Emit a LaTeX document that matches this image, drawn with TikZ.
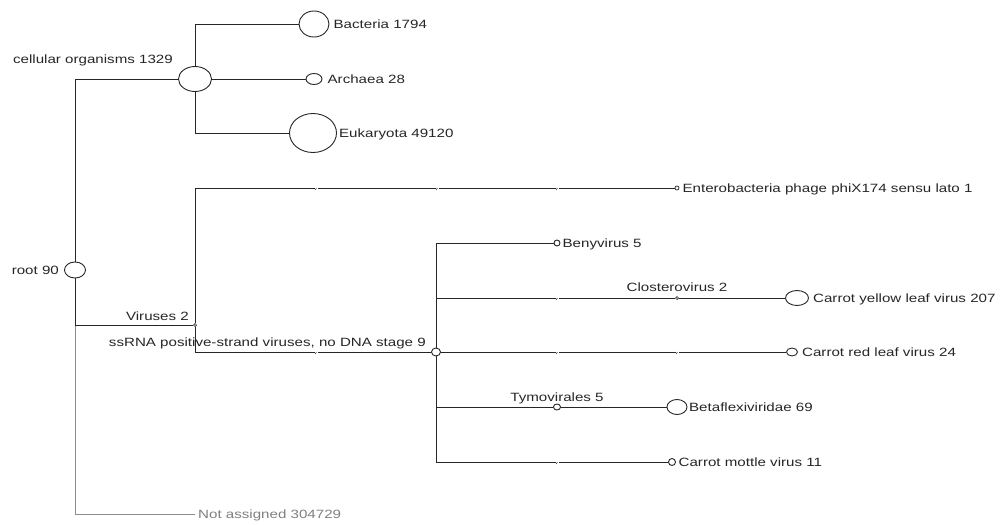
\documentclass[tikz,border=0pt]{standalone}
\usepackage{fontspec}
\setmainfont{Liberation Sans}[FakeStretch=1.26]
\usetikzlibrary{shapes.geometric,positioning}
\tikzset{
  bub/.style 2 args={draw=black!85, line width=.9pt, ellipse, inner sep=0pt,
    minimum width=#1pt, minimum height=#2pt, fill=white},
  tdot/.style={draw=black!85, line width=.7pt, circle, inner sep=0pt,
    minimum size=3pt, fill=white},
  lbl/.style={font=\fontsize{12}{14}\selectfont, inner sep=0pt,
    text height=8.5pt, text depth=0pt, text=black!85},
  link/.style={draw=black!85, line width=1pt},
  nalink/.style={draw=black!45, line width=1pt}
}
\begin{document}
\begin{tikzpicture}[x=1pt,y=-1pt]
    \useasboundingbox (0,0) rectangle (1005,525);
    % taxa
    \node[bub={21}{16}] (root) at (75,270) {};
    \node[bub={33}{25}] (cell) at (195,79) {};
    \node[bub={30}{26}] (bact) at (314,24) {};
    \node[bub={16}{11}] (arch) at (314,79) {};
    \node[bub={47}{39}] (euk) at (313,133) {};
    \node[tdot] (vir) at (195,325) {};
    \node[tdot, minimum size=4pt] (ent) at (677,188) {};
    \node[bub={9}{8}] (ss) at (436,352) {};
    \node[bub={6}{6}] (beny) at (557,243) {};
    \node[tdot] (clo) at (677,298) {};
    \node[bub={23}{15}] (cyl) at (797,298) {};
    \node[bub={11}{8}] (crl) at (792,352) {};
    \node[bub={7}{6}] (tymo) at (557,407) {};
    \node[bub={20}{15}] (beta) at (677,407) {};
    \node[bub={7}{7}] (cmv) at (672,462) {};
    \node[lbl, text=black!50, anchor=west, inner xsep=3pt] (na) at (195,514) {Not assigned 304729};
    % labels
    \node[lbl, left=5pt of root] (rootl) {root 90};
    \node[lbl, anchor=south east] (celll) at (173,63.5) {cellular organisms 1329};
    \node[lbl, right=4pt of bact] (bactl) {Bacteria 1794};
    \node[lbl, right=5pt of arch] (archl) {Archaea 28};
    \node[lbl, right=2pt of euk] (eukl) {Eukaryota 49120};
    \node[lbl, anchor=south east] (virl) at (189,320.5) {Viruses 2};
    \node[lbl, right=3pt of ent] (entl) {Enterobacteria phage phiX174 sensu lato 1};
    \node[lbl, anchor=south east] (ssl) at (426,346.5) {ssRNA positive-strand viruses, no DNA stage 9};
    \node[lbl, right=2pt of beny] (benyl) {Benyvirus 5};
    \node[lbl, above=4pt of clo] (clol) {Closterovirus 2};
    \node[lbl, right=4pt of cyl] (cyll) {Carrot yellow leaf virus 207};
    \node[lbl, right=4pt of crl] (crll) {Carrot red leaf virus 24};
    \node[lbl, above=2pt of tymo] (tymol) {Tymovirales 5};
    \node[lbl, right=1.5pt of beta] (betal) {Betaflexiviridae 69};
    \node[lbl, right=2.5pt of cmv] (cmvl) {Carrot mottle virus 11};
    % edges
    \draw[nalink] (root) |- (na);
    \draw[link] (root) |- (cell);
    \draw[link] (root) |- (vir);
    \draw[link] (cell) |- (bact);
    \draw[link] (cell) -- (arch);
    \draw[link] (cell) |- (euk);
    \draw[link] (vir) |- (ent);
    \draw[link] (vir) |- (ss);
    \draw[link] (ss) |- (beny);
    \draw[link] (ss) |- (clo);
    \draw[link] (clo) -- (cyl);
    \draw[link] (ss) -- (crl);
    \draw[link] (ss) |- (tymo);
    \draw[link] (tymo) -- (beta);
    \draw[link] (ss) |- (cmv);
    % collapsed levels
    \foreach \x/\y in {316/188, 437/188, 557/188, 316/352, 557/298, 557/352, 677/352, 557/462} {
        \fill[white] (\x-1.5,\y-1.5) rectangle (\x+1.5,\y+1.5);
        \draw[black!70, line width=.6pt] (\x-1,\y+2) -- (\x+.5,\y);
    }
\end{tikzpicture}
\end{document}
